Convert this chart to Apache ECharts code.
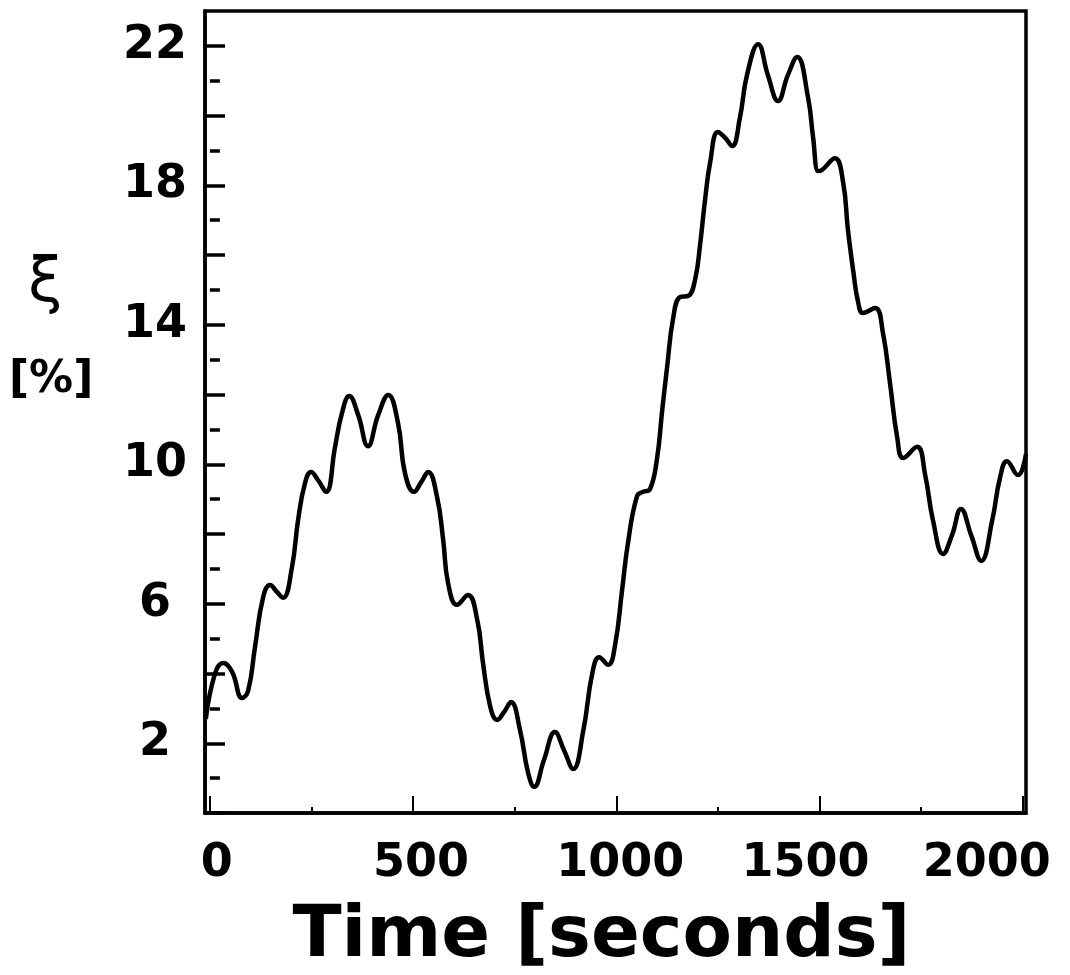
<!DOCTYPE html>
<html>
<head>
<meta charset="utf-8">
<title>ξ versus time</title>
<script src="https://cdn.jsdelivr.net/npm/echarts@6/dist/echarts.min.js"></script>
<style>
  html, body { margin: 0; padding: 0; background: #fff; }
  #chart { width: 1070px; height: 975px; }
</style>
</head>
<body>
<div id="chart"></div>
<script>
// Time samples [s] along the trace
const timeSeconds = [
  -10, 13, 33, 55, 79, 94, 111, 131, 148, 165, 180, 202, 217, 234, 249, 266, 286,
  308, 325, 343, 365, 389, 414, 439, 463, 480, 502, 520, 537, 559, 574, 586, 608,
  635, 658, 672, 690, 707, 724, 741, 763, 783, 798, 822, 849, 871, 894, 919, 941,
  958, 980, 997, 1014, 1029, 1051, 1066, 1083, 1100, 1113, 1125, 1140, 1157, 1177,
  1194, 1206, 1218, 1231, 1250, 1268, 1285, 1304, 1322, 1349, 1373, 1398, 1422,
  1445, 1472, 1484, 1497, 1506, 1538, 1558, 1570, 1583, 1595, 1607, 1637, 1656,
  1674, 1691, 1706, 1740, 1760, 1779, 1804, 1826, 1848, 1873, 1898, 1925, 1944,
  1961, 1988, 2008
];
// ξ [%] at each sample
const xiPercent = [
  2.7, 4.01, 4.30, 4.04, 3.30, 3.50, 4.76, 6.19, 6.54, 6.34, 6.17, 7.05, 8.40, 9.46, 9.78, 9.55, 9.21,
  10.50, 11.47, 11.96, 11.41, 10.52, 11.41, 11.99, 11.18, 9.75, 9.21, 9.49, 9.78, 9.06, 7.83, 6.60, 5.97,
  6.25, 5.53, 4.30, 3.04, 2.67, 2.90, 3.18, 2.38, 1.15, 0.75, 1.52, 2.32, 1.81, 1.26, 2.38, 4.01,
  4.47, 4.25, 4.82, 6.37, 7.77, 9.09, 9.21, 9.29, 10.15, 11.56, 12.79, 14.20, 14.80, 14.83,
  15.31, 16.29, 17.55, 18.67, 19.53, 19.36, 19.13, 19.93, 21.19, 22.05, 21.16, 20.42, 21.16,
  21.68, 20.50, 19.39, 18.41, 18.44, 18.78, 18.09, 16.71, 15.54, 14.65, 14.34, 14.48, 13.77,
  12.27, 10.78, 10.18, 10.50, 9.69, 8.40, 7.43, 7.97, 8.72, 7.97, 7.23, 8.40, 9.61,
  10.09, 9.69, 10.30
];

// Axis ticks and labels
const xMajorTicks = [0, 500, 1000, 1500, 2000];
const xMinorTicks = [250, 750, 1250, 1750];
const xTickLabels = [0, 500, 1000, 1500, 2000];
const yMajorTicks = [0, 2, 4, 6, 8, 10, 12, 14, 16, 18, 20, 22];
const yMinorTicks = [1, 3, 5, 7, 9, 11, 13, 15, 17, 19, 21];
const yTickLabels = [2, 6, 10, 14, 18, 22];

const FONT = '"DejaVu Sans", "Liberation Sans", sans-serif';
const X_MIN = -12, X_MAX = 2008, Y_MIN = 0, Y_MAX = 23;

// Horizontal nudges (px) for the typeset time labels
const xLabelShift = { 0: 7, 500: 8, 1000: 4, 1500: -14, 2000: -36 };
const xLabelRich = {};
Object.keys(xLabelShift).forEach(function (k) {
  const d = xLabelShift[k];
  xLabelRich['l' + k] = {
    fontFamily: FONT, fontWeight: 'bold', fontSize: 46, color: '#000',
    padding: d >= 0 ? [0, 0, 0, 2 * d] : [0, -2 * d, 0, 0]
  };
});

const data = timeSeconds.map(function (t, i) { return [t, xiPercent[i]]; });

const chart = echarts.init(document.getElementById('chart'), null, { renderer: 'canvas' });

chart.setOption({
  backgroundColor: '#fff',
  animation: false,
  grid: {
    left: 205, right: 44, top: 11, bottom: 162,
    containLabel: false,
    outerBoundsMode: 'none',
    show: true, borderColor: '#000', borderWidth: 3.5, backgroundColor: 'transparent'
  },
  xAxis: [
    {
      type: 'value', min: X_MIN, max: X_MAX,
      axisLine: { show: true, onZero: false, lineStyle: { color: '#000', width: 3.5 } },
      axisTick: { show: true, inside: true, length: 17, customValues: xMajorTicks,
                  lineStyle: { color: '#000', width: 2 } },
      axisLabel: {
        show: true, customValues: xTickLabels, margin: 28,
        fontFamily: FONT, fontWeight: 'bold', fontSize: 46, color: '#000',
        formatter: function (v) { return '{l' + v + '|' + v + '}'; },
        rich: xLabelRich
      },
      splitLine: { show: false },
      name: 'Time [seconds]',
      nameLocation: 'middle',
      nameGap: 88,
      nameTextStyle: {
        fontFamily: FONT, fontWeight: 'bold', fontSize: 72, color: '#000',
        padding: [0, 28, 0, 0]
      }
    },
    {
      type: 'value', min: X_MIN, max: X_MAX, position: 'bottom',
      axisLine: { show: false },
      axisTick: { show: true, inside: true, length: 6, customValues: xMinorTicks,
                  lineStyle: { color: '#000', width: 2 } },
      axisLabel: { show: false },
      splitLine: { show: false }
    }
  ],
  yAxis: [
    {
      type: 'value', min: Y_MIN, max: Y_MAX,
      axisLine: { show: true, onZero: false, lineStyle: { color: '#000', width: 3.5 } },
      axisTick: { show: true, inside: true, length: 20, customValues: yMajorTicks,
                  lineStyle: { color: '#000', width: 3.5 } },
      axisLabel: {
        show: true, customValues: yTickLabels, margin: 50, align: 'center',
        fontFamily: FONT, fontWeight: 'bold', fontSize: 46, color: '#000'
      },
      splitLine: { show: false }
    },
    {
      type: 'value', min: Y_MIN, max: Y_MAX, position: 'left',
      axisLine: { show: false },
      axisTick: { show: true, inside: true, length: 10, customValues: yMinorTicks,
                  lineStyle: { color: '#000', width: 3.5 } },
      axisLabel: { show: false },
      splitLine: { show: false }
    }
  ],
  graphic: [
    {
      type: 'text', left: 28, top: 254,
      style: { text: 'ξ', fontFamily: FONT, fontWeight: 'normal', fontSize: 62, fill: '#000' }
    },
    {
      type: 'text', left: 9, top: 359,
      style: { text: '[%]', fontFamily: FONT, fontWeight: 'bold', fontSize: 44, fill: '#000' }
    }
  ],
  series: [
    {
      type: 'line',
      xAxisIndex: 0, yAxisIndex: 0,
      data: data,
      smooth: 0.45,
      showSymbol: false,
      clip: true,
      lineStyle: { color: '#000', width: 4.5 }
    }
  ]
});
</script>
</body>
</html>
